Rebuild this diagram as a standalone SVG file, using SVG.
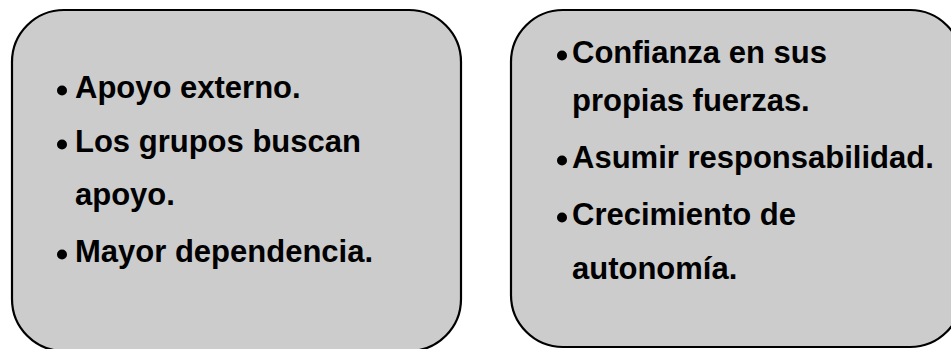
<svg xmlns="http://www.w3.org/2000/svg" width="951" height="349" viewBox="0 0 951 349">
<style>
.box{fill:#cccccc;stroke:#000;stroke-width:2.2}
.t{font-family:"Liberation Sans",Arial,sans-serif;font-weight:bold;font-size:31px;fill:#000}
.b{fill:#000}
</style>
<rect width="951" height="349" fill="#fff"/>
<g id="left">
<rect class="box" x="12" y="10" width="449" height="341" rx="52" ry="52"/>
<circle class="b" cx="62" cy="90.5" r="5"/>
<text class="t" x="75" y="98">Apoyo externo.</text>
<circle class="b" cx="62" cy="144.5" r="5"/>
<text class="t" x="75" y="152">Los grupos buscan</text>
<text class="t" x="75" y="205">apoyo.</text>
<circle class="b" cx="62" cy="254.5" r="5"/>
<text class="t" x="75" y="262">Mayor dependencia.</text>
</g>
<g id="right">
<rect class="box" x="511" y="10" width="451" height="337" rx="52" ry="52"/>
<circle class="b" cx="562" cy="55.5" r="5"/>
<text class="t" x="572" y="63">Confianza en sus</text>
<text class="t" x="572" y="111">propias fuerzas.</text>
<circle class="b" cx="562" cy="160.5" r="5"/>
<text class="t" x="572" y="168">Asumir responsabilidad.</text>
<circle class="b" cx="562" cy="217.5" r="5"/>
<text class="t" x="572" y="225">Crecimiento de</text>
<text class="t" x="572" y="279">autonomía.</text>
</g>
<g id="connectors"/>
</svg>
